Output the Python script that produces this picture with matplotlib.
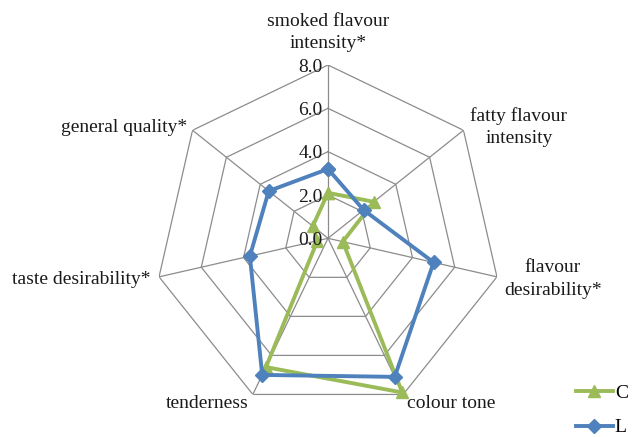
import numpy as np
import matplotlib
matplotlib.use("Agg")
import matplotlib.pyplot as plt
from matplotlib.lines import Line2D

categories = ["smoked flavour\nintensity*", "fatty flavour\nintensity", "flavour\ndesirability*",
              "colour tone", "tenderness", "taste desirability*", "general quality*"]
series_C = [2.1, 2.7, 0.7, 7.9, 6.6, 0.5, 0.9]
series_L = [3.2, 2.1, 5.0, 7.1, 7.0, 3.7, 3.5]
r_ticks = [0.0, 2.0, 4.0, 6.0, 8.0]
tick_labels = ["0.0", "2.0", "4.0", "6.0", "8.0"]

plt.rcParams['font.family'] = ['Liberation Serif', 'DejaVu Serif']

W, H = 632, 437
fig = plt.figure(figsize=(W / 100, H / 100), dpi=100)
cx, cy, R = 328, 238.3, 173.3
ax = fig.add_axes([(cx - R) / W, 1 - (cy + R) / H, 2 * R / W, 2 * R / H], projection='polar')
ax.set_theta_zero_location('N')
ax.set_theta_direction(-1)
ax.set_ylim(0, 8)
ax.grid(False)
ax.spines['polar'].set_visible(False)
ax.set_xticks([])
ax.set_yticks([])
ax.patch.set_alpha(0)

n = len(categories)
theta = np.arange(n) * 2 * np.pi / n
theta_c = np.append(theta, theta[0])

grid_col = '#8c8c8c'
for rv in r_ticks[1:]:
    ax.plot(theta_c, [rv] * (n + 1), color=grid_col, lw=0.9, zorder=1)
for t in theta:
    ax.plot([t, t], [0, 8], color=grid_col, lw=0.9, zorder=1)

green = '#9BBB59'
blue = '#4F81BD'
ax.plot(theta_c, series_C + series_C[:1], color=green, lw=2.8, marker='^', ms=9,
        markeredgecolor=green, markerfacecolor=green, zorder=3, clip_on=False)
ax.plot(theta_c, series_L + series_L[:1], color=blue, lw=2.8, marker='D', ms=7.5,
        markeredgecolor=blue, markerfacecolor=blue, zorder=4, clip_on=False)

fs = 14
txt_col = '#1a1a1a'
# radial tick labels
for rv, lab in zip(r_ticks, tick_labels):
    ax.annotate(lab, xy=(0, rv), xytext=(-4, -1.5), textcoords='offset points',
                ha='right', va='center', fontsize=fs, color=txt_col)

# category label anchors in figure pixels (x, y, ha)
label_pos = [
    (328, 32.5, 'center'),
    (519, 127, 'center'),
    (553, 279, 'center'),
    (407, 403, 'left'),
    (249, 403, 'right'),
    (150, 280, 'right'),
    (187, 127, 'right'),
]
for lab, (x, y, ha) in zip(categories, label_pos):
    fig.text(x / W, 1 - y / H, lab, ha=ha, va='center', fontsize=fs, color=txt_col,
             multialignment='center', linespacing=1.45)

handles = [Line2D([0], [0], color=green, lw=2.8, marker='^', ms=9),
           Line2D([0], [0], color=blue, lw=2.8, marker='D', ms=7.5)]
fig.legend(handles, ['C', 'L'], loc='upper left', bbox_to_anchor=(576 / W, 1 - 384 / H),
           frameon=False, fontsize=fs, handlelength=1.9, labelspacing=0.88,
           handletextpad=0.1, borderaxespad=0, borderpad=0)

fig.savefig('out.png', dpi=100)
